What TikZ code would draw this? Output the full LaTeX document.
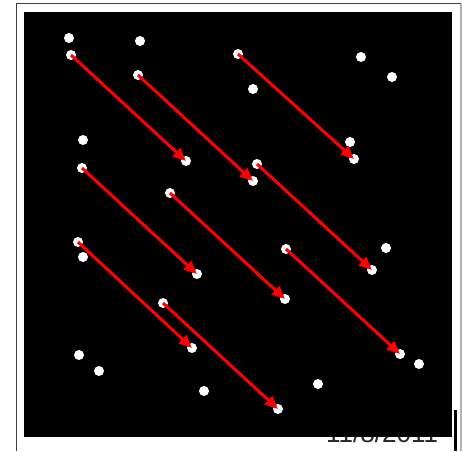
\documentclass[tikz,border=0pt]{standalone}
\usepackage{fontspec}
\setmainfont{Liberation Sans}
\usepackage{tikz}
\usetikzlibrary{
    arrows.meta,
    positioning
}
\tikzstyle{spot} = [
    circle,
    fill=white,
    draw=none,
    inner sep=0pt,
    minimum size=10pt
]
\tikzstyle{arrow} = [
    -{Triangle[length=13pt,width=11pt]},
    line width=3pt,
    draw=red
]

\begin{document}
\begin{tikzpicture}[x=1pt, y=-1pt]
    \useasboundingbox (0,0) rectangle (462,451);

    % Frame and date (under the black field)
    \draw[black!75, line width=1.5pt] (16.5,451) -- (16.5,3.5) -- (461,3.5);
    \draw[black!30, line width=1.5pt] (461,3.5) -- (461,451);
    \node[anchor=base west, inner sep=0pt, font=\fontsize{26}{27}\selectfont, text=black!85]
        (date) at (326,442) {11/8/2011};
    \draw[black, line width=3pt] (455,410) -- (455,451);

    % Field
    \fill[black] (24,12) rectangle (452,437);

    % Start points
    \node[spot] (s1) at (71,55) {};
    \node[spot] (s2) at (138,75) {};
    \node[spot] (s3) at (238,54) {};
    \node[spot] (s4) at (82,168) {};
    \node[spot] (s5) at (257,164) {};
    \node[spot] (s6) at (170,193) {};
    \node[spot] (s7) at (78,242) {};
    \node[spot] (s8) at (286,249) {};
    \node[spot] (s9) at (163,303) {};

    % End points
    \node[spot] (e1) at (186,161) {};
    \node[spot] (e2) at (253,181) {};
    \node[spot] (e3) at (354,159) {};
    \node[spot] (e4) at (197,274) {};
    \node[spot] (e5) at (372,270) {};
    \node[spot] (e6) at (285,299) {};
    \node[spot] (e7) at (192,348) {};
    \node[spot] (e8) at (400,354) {};
    \node[spot] (e9) at (278,409) {};

    % Unmatched points
    \node[spot] (u1) at (69,38) {};
    \node[spot] (u2) at (140,41) {};
    \node[spot] (u3) at (361,57) {};
    \node[spot] (u4) at (392,77) {};
    \node[spot] (u5) at (253,89) {};
    \node[spot] (u6) at (83,140) {};
    \node[spot] (u7) at (350,142) {};
    \node[spot] (u8) at (83,257) {};
    \node[spot] (u9) at (386,248) {};
    \node[spot] (u10) at (79,355) {};
    \node[spot] (u11) at (99,371) {};
    \node[spot] (u12) at (204,391) {};
    \node[spot] (u13) at (318,384) {};
    \node[spot] (u14) at (419,364) {};

    % Arrows
    \draw[arrow] (s1.center) -- (e1.center);
    \draw[arrow] (s2.center) -- (e2.center);
    \draw[arrow] (s3.center) -- (e3.center);
    \draw[arrow] (s4.center) -- (e4.center);
    \draw[arrow] (s5.center) -- (e5.center);
    \draw[arrow] (s6.center) -- (e6.center);
    \draw[arrow] (s7.center) -- (e7.center);
    \draw[arrow] (s8.center) -- (e8.center);
    \draw[arrow] (s9.center) -- (e9.center);
\end{tikzpicture}
\end{document}
